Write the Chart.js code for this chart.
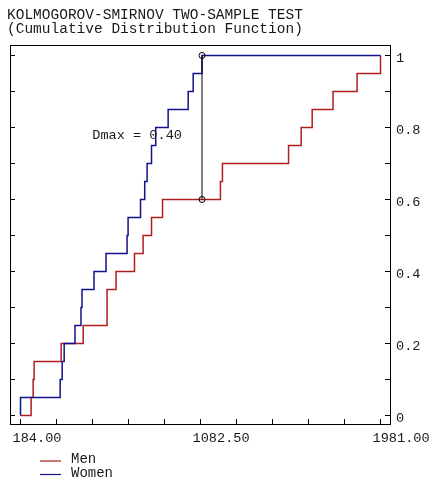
<!DOCTYPE html>
<html>
<head>
<meta charset="utf-8">
<script src="https://cdn.jsdelivr.net/npm/chart.js@4.4.1/dist/chart.umd.min.js"></script>
<style>
  html, body { margin: 0; padding: 0; background: #fff; }
  #wrap { width: 435px; height: 488px; position: relative; }
</style>
</head>
<body>
<div id="wrap"><canvas id="ks"></canvas></div>
<script>
var titleLines = ['KOLMOGOROV-SMIRNOV TWO-SAMPLE TEST', '(Cumulative Distribution Function)'];
var seriesNames = ['Men', 'Women'];

// step points of the two empirical CDFs (x = value, y = cumulative share)
var menX = [184, 237, 247, 252, 387, 497, 616, 661, 753, 796, 838, 893, 1182, 1192, 1522, 1585, 1640, 1744, 1864, 1981];
var menCdf = [0, 0.05, 0.10, 0.15, 0.20, 0.25, 0.35, 0.40, 0.45, 0.50, 0.55, 0.60, 0.65, 0.70, 0.75, 0.80, 0.85, 0.90, 0.95, 1.00];
var womenX = [184, 184, 382, 392, 402, 456, 486, 491, 551, 611, 716, 721, 783, 804, 816, 838, 859, 921, 1021, 1046, 1090, 1981];
var womenCdf = [0, 0.05, 0.10, 0.15, 0.20, 0.25, 0.30, 0.35, 0.40, 0.45, 0.50, 0.55, 0.60, 0.65, 0.70, 0.75, 0.80, 0.85, 0.90, 0.95, 1.00, 1.00];

var dmaxX = 1090;
var dmaxLow = 0.60;
var dmaxHigh = 1.00;
var dmaxText = 'Dmax = 0.40';

var xTicks = [184, 363.7, 543.4, 723.1, 902.8, 1082.5, 1262.2, 1441.9, 1621.6, 1801.3, 1981];
var xTickLabels = ['184.00', '', '', '', '', '1082.50', '', '', '', '', '1981.00'];
var yTicks = [0, 0.1, 0.2, 0.3, 0.4, 0.5, 0.6, 0.7, 0.8, 0.9, 1];
var yTickLabels = ['0', '', '0.2', '', '0.4', '', '0.6', '', '0.8', '', '1'];

var redColor = '#b01e1e';
var blueColor = '#12128e';
var inkColor = '#1a1a1a';
var monoFont = '"Liberation Mono", "Courier New", monospace';

var toPoints = function(xs, ys) {
    return xs.map(function(x, i) { return {x: x, y: ys[i]}; });
};

var tickGrid = {
    display: true,
    drawOnChartArea: false,
    drawTicks: true,
    tickLength: -5,
    color: '#000',
    lineWidth: 1
};

var ksDecor = {
    id: 'ksDecor',
    afterDatasetsDraw: function(chart) {
        var ctx = chart.ctx;
        var xs = chart.scales.x, ys = chart.scales.y;
        var px = xs.getPixelForValue(dmaxX);
        var mid = (ys.getPixelForValue(dmaxLow) + ys.getPixelForValue(dmaxHigh)) / 2;
        ctx.save();
        ctx.font = '13.6px ' + monoFont;
        ctx.fillStyle = inkColor;
        ctx.textAlign = 'right';
        ctx.textBaseline = 'alphabetic';
        ctx.fillText(dmaxText, px - 20, mid + 11.5);
        ctx.restore();
    },
    afterDraw: function(chart) {
        var ctx = chart.ctx;
        var a = chart.chartArea;
        ctx.save();
        // frame
        ctx.strokeStyle = '#000';
        ctx.lineWidth = 1;
        ctx.strokeRect(a.left + 0.5, a.top + 0.5, a.right - a.left, a.bottom - a.top);
        // title
        ctx.fillStyle = inkColor;
        ctx.font = '14.5px ' + monoFont;
        ctx.textAlign = 'left';
        ctx.textBaseline = 'alphabetic';
        ctx.fillText(titleLines[0], 7, 18.5);
        ctx.fillText(titleLines[1], 7, 32.5);
        // legend
        ctx.font = '14px ' + monoFont;
        var legendSets = chart.data.datasets.filter(function(d) { return d.inLegend; });
        legendSets.forEach(function(d, i) {
            var y = 461 + i * 13.5;
            ctx.strokeStyle = d.borderColor;
            ctx.lineWidth = 1.2;
            ctx.beginPath();
            ctx.moveTo(40, y);
            ctx.lineTo(61, y);
            ctx.stroke();
            ctx.fillStyle = inkColor;
            ctx.fillText(d.label, 71, y + 2);
        });
        ctx.restore();
    }
};

var ctx = document.getElementById('ks');
var myChart = new Chart(ctx, {
    type: 'line',
    data: {
        datasets: [
            {
                label: seriesNames[0],
                data: toPoints(menX, menCdf),
                borderColor: redColor,
                borderWidth: 1.5,
                stepped: true,
                pointRadius: 0,
                fill: false,
                order: 2,
                inLegend: true
            },
            {
                label: seriesNames[1],
                data: toPoints(womenX, womenCdf),
                borderColor: blueColor,
                borderWidth: 1.5,
                stepped: true,
                pointRadius: 0,
                fill: false,
                order: 1,
                inLegend: true
            },
            {
                label: 'Dmax',
                data: [{x: dmaxX, y: dmaxLow}, {x: dmaxX, y: dmaxHigh}],
                borderColor: '#000',
                borderWidth: 1,
                pointRadius: 3,
                pointBorderWidth: 1,
                pointBorderColor: '#000',
                pointBackgroundColor: 'rgba(0,0,0,0)',
                fill: false,
                order: 0,
                inLegend: false
            }
        ]
    },
    options: {
        responsive: true,
        maintainAspectRatio: false,
        animation: false,
        events: [],
        layout: {
            autoPadding: false,
            padding: {left: 10, top: 45, right: 0, bottom: 0}
        },
        plugins: {
            legend: {display: false},
            title: {display: false},
            tooltip: {enabled: false}
        },
        scales: {
            x: {
                type: 'linear',
                position: 'bottom',
                min: 131.6,
                max: 2028.4,
                border: {display: false},
                grid: tickGrid,
                afterBuildTicks: function(scale) {
                    scale.ticks = xTicks.map(function(v) { return {value: v}; });
                },
                afterFit: function(scale) {
                    scale.height = 64;
                    scale.paddingLeft = 0;
                    scale.paddingRight = 0;
                },
                ticks: {
                    autoSkip: false,
                    maxRotation: 0,
                    align: 'start',
                    labelOffset: -8,
                    padding: 11,
                    color: inkColor,
                    font: {family: monoFont, size: 13.6},
                    callback: function(value, index) { return xTickLabels[index]; }
                }
            },
            y: {
                type: 'linear',
                position: 'right',
                min: -0.0236,
                max: 1.0292,
                border: {display: false},
                grid: tickGrid,
                afterBuildTicks: function(scale) {
                    scale.ticks = yTicks.map(function(v) { return {value: v}; });
                },
                afterFit: function(scale) {
                    scale.width = 45;
                    scale.paddingTop = 0;
                    scale.paddingBottom = 0;
                },
                ticks: {
                    autoSkip: false,
                    crossAlign: 'near',
                    padding: 11,
                    labelOffset: 2.5,
                    color: inkColor,
                    font: {family: monoFont, size: 13.6},
                    callback: function(value, index) { return yTickLabels[index]; }
                }
            },
            yl: {
                type: 'linear',
                position: 'left',
                min: -0.0236,
                max: 1.0292,
                border: {display: false},
                grid: tickGrid,
                afterBuildTicks: function(scale) {
                    scale.ticks = yTicks.map(function(v) { return {value: v}; });
                },
                afterFit: function(scale) {
                    scale.width = 0;
                    scale.paddingTop = 0;
                    scale.paddingBottom = 0;
                },
                ticks: {display: false}
            }
        }
    },
    plugins: [ksDecor]
});
</script>
</body>
</html>
